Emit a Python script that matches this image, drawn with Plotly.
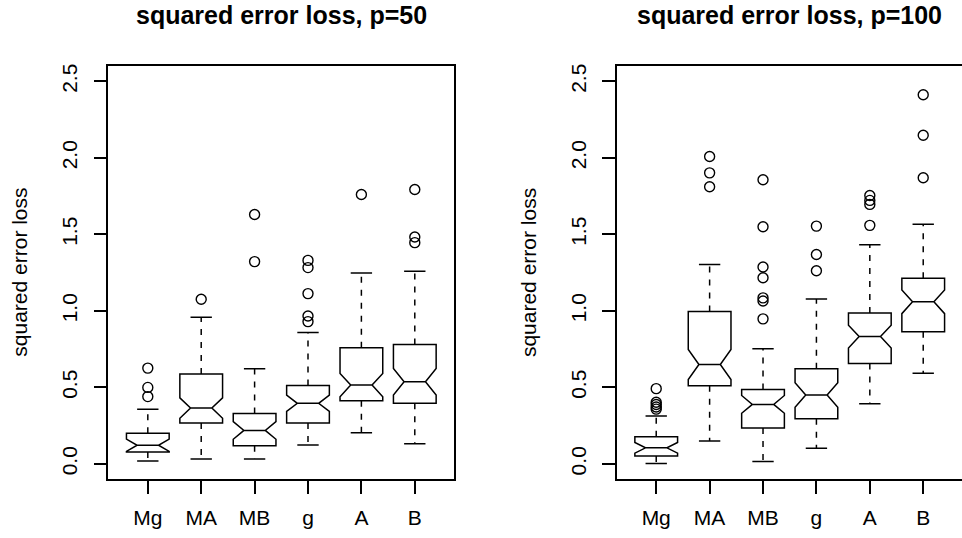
import plotly.graph_objects as go

# Methods compared in each panel
categories = ["Mg", "MA", "MB", "g", "A", "B"]
positions = [1, 2, 3, 4, 5, 6]

# p = 50: box statistics (whisker ends, hinges, median, notch half-span)
lo_50 = [0.019, 0.032, 0.032, 0.124, 0.204, 0.132]
q1_50 = [0.078, 0.267, 0.119, 0.267, 0.413, 0.396]
med_50 = [0.122, 0.365, 0.219, 0.396, 0.515, 0.537]
q3_50 = [0.201, 0.587, 0.330, 0.513, 0.759, 0.780]
hi_50 = [0.358, 0.959, 0.622, 0.859, 1.248, 1.259]
notch_50 = [0.040, 0.067, 0.058, 0.053, 0.076, 0.087]
out_50 = [
    [0.440, 0.500, 0.626],
    [1.076],
    [1.322, 1.630],
    [0.930, 0.967, 1.113, 1.283, 1.330],
    [1.761],
    [1.446, 1.483, 1.793],
]

# p = 100
lo_100 = [0.002, 0.150, 0.015, 0.102, 0.393, 0.593]
q1_100 = [0.052, 0.511, 0.235, 0.295, 0.656, 0.863]
med_100 = [0.105, 0.650, 0.389, 0.450, 0.832, 1.059]
q3_100 = [0.178, 0.996, 0.487, 0.622, 0.987, 1.213]
hi_100 = [0.313, 1.304, 0.752, 1.078, 1.432, 1.567]
notch_100 = [0.035, 0.098, 0.058, 0.080, 0.074, 0.077]
out_100 = [
    [0.358, 0.372, 0.388, 0.403, 0.492],
    [1.811, 1.902, 2.009],
    [0.948, 1.065, 1.085, 1.217, 1.287, 1.550, 1.857],
    [1.262, 1.369, 1.554],
    [1.559, 1.696, 1.722, 1.754],
    [1.870, 2.148, 2.413],
]

y_ticks = [0.0, 0.5, 1.0, 1.5, 2.0, 2.5]
y_ticktext = ["0.0", "0.5", "1.0", "1.5", "2.0", "2.5"]

FONT = "Liberation Sans, Arial, Helvetica, sans-serif"
LW = 1.5
BOX_W = 0.8
CAP_HALF = 0.2

fig = go.Figure()


def add_panel(xa, ya, lo, q1, med, q3, hi, notch, outs):
    # notched boxes; whiskers are drawn separately as dashed segments
    fig.add_trace(go.Box(
        x=positions, q1=q1, median=med, q3=q3,
        lowerfence=q1, upperfence=q3, notchspan=notch,
        notched=True, notchwidth=0.25, width=BOX_W,
        boxpoints=False, fillcolor="rgba(255,255,255,0)",
        line=dict(color="black", width=LW),
        xaxis=xa, yaxis=ya, showlegend=False, hoverinfo="skip",
    ))
    wx, wy, cx, cy = [], [], [], []
    for p, a, b, c, d in zip(positions, lo, q1, q3, hi):
        wx += [p, p, None, p, p, None]
        wy += [c, d, None, b, a, None]
        cx += [p - CAP_HALF, p + CAP_HALF, None, p - CAP_HALF, p + CAP_HALF, None]
        cy += [d, d, None, a, a, None]
    fig.add_trace(go.Scatter(
        x=wx, y=wy, mode="lines", xaxis=xa, yaxis=ya,
        line=dict(color="black", width=LW, dash="6px,7px"),
        showlegend=False, hoverinfo="skip"))
    fig.add_trace(go.Scatter(
        x=cx, y=cy, mode="lines", xaxis=xa, yaxis=ya,
        line=dict(color="black", width=LW),
        showlegend=False, hoverinfo="skip"))
    ox, oy = [], []
    for p, vals in zip(positions, outs):
        ox += [p] * len(vals)
        oy += vals
    fig.add_trace(go.Scatter(
        x=ox, y=oy, mode="markers", xaxis=xa, yaxis=ya,
        marker=dict(symbol="circle-open", size=10, color="black",
                    line=dict(width=1.4, color="black")),
        showlegend=False, hoverinfo="skip"))


add_panel("x", "y", lo_50, q1_50, med_50, q3_50, hi_50, notch_50, out_50)
add_panel("x2", "y2", lo_100, q1_100, med_100, q3_100, hi_100, notch_100, out_100)

W, H = 962, 538
y_dom = [(H - 479) / H, (H - 64.3) / H]

xcommon = dict(
    tickvals=positions, ticktext=categories, ticks="outside", ticklen=13,
    tickwidth=LW, tickcolor="black", showline=True, linecolor="black",
    linewidth=LW, mirror=True, showgrid=False, zeroline=False,
    ticklabelstandoff=6,
    tickfont=dict(family=FONT, size=21, color="black"),
)
ycommon = dict(
    range=[-0.1, 2.6], tickvals=y_ticks, ticktext=y_ticktext,
    ticks="outside", ticklen=13, tickwidth=LW, tickcolor="black",
    tickangle=-90, showline=True, linecolor="black", linewidth=LW,
    showgrid=False, zeroline=False, domain=y_dom, ticklabelstandoff=8,
    tickfont=dict(family=FONT, size=21, color="black"),
)

fig.update_layout(
    width=W, height=H,
    margin=dict(l=0, r=0, t=0, b=0),
    paper_bgcolor="white", plot_bgcolor="white",
    xaxis=dict(domain=[108.3 / W, 454.3 / W], range=[0.26, 6.74],
               anchor="y", **xcommon),
    yaxis=dict(anchor="x", mirror=True, **ycommon),
    xaxis2=dict(domain=[616.7 / W, 1.0], range=[0.26, 0.26 + 345.3 / 53.4],
                anchor="y2", **xcommon),
    yaxis2=dict(anchor="x2", mirror=False, **ycommon),
    font=dict(family=FONT, color="black"),
)

# panel titles
for xc, txt in [(281.3, "squared error loss, p=50"),
                (789.7, "squared error loss, p=100")]:
    fig.add_annotation(
        x=xc / W, y=(H - 13.5) / H, xref="paper", yref="paper",
        text="<b>" + txt + "</b>", showarrow=False,
        xanchor="center", yanchor="middle",
        font=dict(family=FONT, size=25, color="black"))

# y-axis titles
for xc in [20.0, 528.4]:
    fig.add_annotation(
        x=xc / W, y=(H - 271.7) / H, xref="paper", yref="paper",
        text="squared error loss", textangle=-90, showarrow=False,
        xanchor="center", yanchor="middle",
        font=dict(family=FONT, size=21, color="black"))

fig.write_html("out.html")
